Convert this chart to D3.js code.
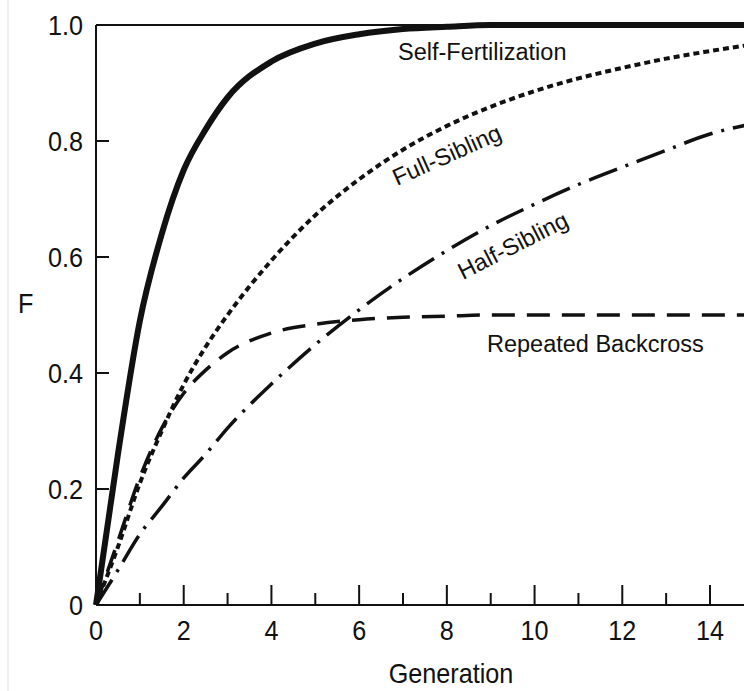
<!DOCTYPE html>
<html>
<head>
<meta charset="utf-8">
<script src="https://cdn.jsdelivr.net/npm/d3@7"></script>
<style>
  body { margin: 0; background: #fff; }
  text { font-family: "Liberation Sans", Arial, sans-serif; fill: #111; }
</style>
</head>
<body>
<div class="chart"></div>
<script>
var svgWidth = 744;
var svgHeight = 691;

// generations and the inbreeding coefficient F
var generations = [0, 0.5, 1, 1.5, 2, 2.5, 3, 4, 5, 6, 7, 8, 9, 10, 11, 12, 13, 14, 15];
var selfFert   = [0, 0.26, 0.49, 0.64, 0.75, 0.82, 0.875, 0.937, 0.968, 0.984, 0.993, 0.997, 1, 1, 1, 1, 1, 1, 1];
var fullSib    = [0, 0.1, 0.21, 0.3, 0.38, 0.445, 0.5, 0.594, 0.672, 0.734, 0.785, 0.826, 0.859, 0.886, 0.908, 0.926, 0.942, 0.955, 0.967];
var halfSib    = [0, 0.06, 0.122, 0.17, 0.219, 0.26, 0.305, 0.381, 0.449, 0.509, 0.563, 0.611, 0.654, 0.691, 0.725, 0.755, 0.784, 0.812, 0.83];
var backcross  = [0, 0.11, 0.22, 0.305, 0.365, 0.405, 0.435, 0.469, 0.484, 0.492, 0.496, 0.498, 0.5, 0.5, 0.5, 0.5, 0.5, 0.5, 0.5];

var xMajor = [0, 2, 4, 6, 8, 10, 12, 14];
var xMinor = [1, 3, 5, 7, 9, 11, 13];
var yTicks = [0, 0.2, 0.4, 0.6, 0.8, 1.0];
var yTickLabels = ["0", "0.2", "0.4", "0.6", "0.8", "1.0"];

var svg = d3.select(".chart")
  .append("svg")
  .attr("width", svgWidth)
  .attr("height", svgHeight);

var xScale = d3.scaleLinear().domain([0, 14]).range([96, 710]);
var yScale = d3.scaleLinear().domain([0, 1]).range([605, 25]);

// faint scan border on the left
svg.append("line")
  .attr("x1", 8).attr("x2", 8).attr("y1", 0).attr("y2", svgHeight)
  .attr("stroke", "#ececec").attr("stroke-width", 1.5);

// curves
var line = d3.line()
  .x(d => xScale(d[0]))
  .y(d => yScale(d[1]))
  .curve(d3.curveMonotoneX);

function pairs(vals) {
  return generations.map((g, i) => [g, vals[i]]);
}

var series = [
  { vals: halfSib, width: 3.5, dash: "30,9,3,9" },
  { vals: backcross, width: 3.5, dash: "23,12" },
  { vals: fullSib, width: 4, dash: "6,4" },
  { vals: selfFert, width: 6, dash: null }
];

series.forEach(function(s) {
  svg.append("path")
    .datum(pairs(s.vals))
    .attr("d", line)
    .attr("fill", "none")
    .attr("stroke", "#111")
    .attr("stroke-width", s.width)
    .attr("stroke-dasharray", s.dash);
});

// frame: left spine, bottom axis, top border
svg.append("line")
  .attr("x1", xScale(0)).attr("x2", xScale(0))
  .attr("y1", yScale(1)).attr("y2", yScale(0))
  .attr("stroke", "#111").attr("stroke-width", 2);
svg.append("line")
  .attr("x1", xScale(0)).attr("x2", svgWidth)
  .attr("y1", yScale(0)).attr("y2", yScale(0))
  .attr("stroke", "#111").attr("stroke-width", 2);
svg.append("line")
  .attr("x1", xScale(0)).attr("x2", svgWidth)
  .attr("y1", yScale(1)).attr("y2", yScale(1))
  .attr("stroke", "#111").attr("stroke-width", 2);

// x ticks (pointing inward)
svg.selectAll(".xmajor")
  .data(xMajor.filter(d => d > 0))
  .enter().append("line")
  .attr("x1", d => xScale(d)).attr("x2", d => xScale(d))
  .attr("y1", yScale(0)).attr("y2", yScale(0) - 20)
  .attr("stroke", "#111").attr("stroke-width", 2);

svg.selectAll(".xminor")
  .data(xMinor)
  .enter().append("line")
  .attr("x1", d => xScale(d)).attr("x2", d => xScale(d))
  .attr("y1", yScale(0)).attr("y2", yScale(0) - 12)
  .attr("stroke", "#111").attr("stroke-width", 2);

// y ticks (pointing inward)
svg.selectAll(".ytick")
  .data(yTicks.filter(d => d > 0 && d < 1))
  .enter().append("line")
  .attr("x1", xScale(0)).attr("x2", xScale(0) + 13)
  .attr("y1", d => yScale(d)).attr("y2", d => yScale(d))
  .attr("stroke", "#111").attr("stroke-width", 2);

// tick labels, slightly condensed
svg.selectAll(".xlabel")
  .data(xMajor)
  .enter().append("g")
  .attr("transform", d => `translate(${xScale(d)}, 640)`)
  .append("text")
  .attr("transform", "scale(0.9,1)")
  .attr("text-anchor", "middle")
  .attr("font-size", 28)
  .text(d => d);

svg.selectAll(".ylabel")
  .data(yTicks)
  .enter().append("g")
  .attr("transform", d => `translate(83, ${yScale(d) + 10})`)
  .append("text")
  .attr("transform", "scale(0.9,1)")
  .attr("text-anchor", "end")
  .attr("font-size", 28)
  .text((d, i) => yTickLabels[i]);

// axis titles
svg.append("g")
  .attr("transform", `translate(451, 683)`)
  .append("text")
  .attr("transform", "scale(0.9,1)")
  .attr("text-anchor", "middle")
  .attr("font-size", 28)
  .text("Generation");

svg.append("g")
  .attr("transform", `translate(18, 313)`)
  .append("text")
  .attr("transform", "scale(0.9,1)")
  .attr("font-size", 28)
  .text("F");

// curve labels
svg.append("text")
  .attr("x", 398).attr("y", 60)
  .attr("font-size", 23.5)
  .text("Self-Fertilization");

svg.append("text")
  .attr("transform", "translate(397, 186) rotate(-24)")
  .attr("font-size", 23.5)
  .text("Full-Sibling");

svg.append("text")
  .attr("transform", "translate(463, 280) rotate(-27)")
  .attr("font-size", 23.5)
  .text("Half-Sibling");

svg.append("text")
  .attr("x", 487).attr("y", 352)
  .attr("font-size", 23.5)
  .text("Repeated Backcross");
</script>
</body>
</html>
